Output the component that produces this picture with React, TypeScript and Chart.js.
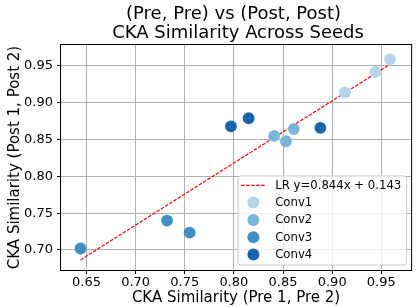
import React, { useEffect, useRef } from 'react';
import { Chart, registerables } from 'chart.js';

Chart.register(...registerables);

// ---- data ----
const groupNames = ['Conv1', 'Conv2', 'Conv3', 'Conv4'];
const groupColors = ['#b6d4e9', '#79b6d9', '#4090c5', '#1764ab'];

const conv1X = [0.913, 0.944, 0.959];
const conv1Y = [0.914, 0.942, 0.959];
const conv2X = [0.841, 0.853, 0.861];
const conv2Y = [0.855, 0.8477, 0.8644];
const conv3X = [0.644, 0.732, 0.755];
const conv3Y = [0.702, 0.740, 0.7235];
const conv4X = [0.797, 0.815, 0.888];
const conv4Y = [0.868, 0.879, 0.866];

const lrSlope = 0.844;
const lrIntercept = 0.143;
const lrLabel = 'LR y=0.844x + 0.143';

const xTicks = [0.65, 0.7, 0.75, 0.8, 0.85, 0.9, 0.95];
const yTicks = [0.7, 0.75, 0.8, 0.85, 0.9, 0.95];

const xRange = [0.6241, 0.9803];
const yRange = [0.6728, 0.9785];

const titleLines = ['(Pre, Pre) vs (Post, Post)', 'CKA Similarity Across Seeds'];
const xTitle = 'CKA Similarity (Pre 1, Pre 2)';
const yTitle = 'CKA Similarity (Post 1, Post 2)';

const FONT = '"DejaVu Sans", sans-serif';

const allX = [conv1X, conv2X, conv3X, conv4X];
const allY = [conv1Y, conv2Y, conv3Y, conv4Y];

const framePlugin = {
  id: 'frameTitleLegend',
  afterDraw(chart: any) {
    const ctx = chart.ctx as CanvasRenderingContext2D;
    const { left, right, top, bottom } = chart.chartArea;
    ctx.save();
    // frame
    ctx.strokeStyle = '#000';
    ctx.lineWidth = 1;
    ctx.strokeRect(left - 0.5, top - 0.5, right - left + 1, bottom - top + 1);

    // title
    ctx.fillStyle = '#000';
    ctx.font = `18px ${FONT}`;
    ctx.textAlign = 'center';
    ctx.textBaseline = 'alphabetic';
    const cx = (left + right) / 2;
    ctx.fillText(titleLines[0], cx - 2.5, 18.5);
    ctx.fillText(titleLines[1], cx + 2, 37.5);

    // legend
    const lgRight = right - 5;
    const lgBottom = bottom - 5.5;
    const rowGap = 17.3;
    ctx.font = `11.7px ${FONT}`;
    const labels = [lrLabel, ...groupNames];
    let maxW = 0;
    labels.forEach((l) => { maxW = Math.max(maxW, ctx.measureText(l).width); });
    const lgLeft = lgRight - (37.5 + maxW + 4.8);
    const lgTop = lgBottom - (20 + rowGap * (labels.length - 1));
    ctx.beginPath();
    (ctx as any).roundRect(lgLeft + 0.5, lgTop + 0.5, lgRight - lgLeft, lgBottom - lgTop, 3);
    ctx.fillStyle = 'rgba(255,255,255,0.8)';
    ctx.fill();
    ctx.strokeStyle = '#cccccc';
    ctx.lineWidth = 1;
    ctx.stroke();

    labels.forEach((l, i) => {
      const cy = lgTop + 10 + i * rowGap;
      if (i === 0) {
        ctx.save();
        ctx.strokeStyle = '#ff0000';
        ctx.lineWidth = 1.2;
        ctx.setLineDash([3.5, 1.5]);
        ctx.beginPath();
        ctx.moveTo(lgLeft + 3.5, cy);
        ctx.lineTo(lgLeft + 27, cy);
        ctx.stroke();
        ctx.restore();
      } else {
        ctx.beginPath();
        ctx.arc(lgLeft + 15.7, cy, 6, 0, Math.PI * 2);
        ctx.fillStyle = groupColors[i - 1];
        ctx.fill();
      }
      ctx.fillStyle = '#000';
      ctx.textAlign = 'left';
      ctx.textBaseline = 'middle';
      ctx.fillText(l, lgLeft + 37.5, cy + 0.5);
    });
    ctx.restore();
  },
};

export default function App() {
  const ref = useRef<HTMLCanvasElement>(null);
  useEffect(() => {
    const canvas = ref.current!;
    const flatX = allX.flat();
    const xmin = Math.min(...flatX);
    const xmax = Math.max(...flatX);
    const datasets: any[] = [
      {
        label: lrLabel,
        data: [
          { x: xmin, y: lrSlope * xmin + lrIntercept },
          { x: xmax, y: lrSlope * xmax + lrIntercept },
        ],
        showLine: true,
        borderColor: '#ff0000',
        borderWidth: 1.2,
        borderDash: [3.5, 1.5],
        pointRadius: 0,
        order: 10,
      },
      ...groupNames.map((name, gi) => ({
        label: name,
        data: allX[gi].map((x, i) => ({ x, y: allY[gi][i] })),
        backgroundColor: groupColors[gi],
        borderWidth: 0,
        pointRadius: 5.9,
        pointHoverRadius: 5.9,
        order: 1,
      })),
    ];
    const tickFont = { family: FONT, size: 13 };
    const titleFont = { family: FONT, size: 15 };
    const chart = new Chart(canvas, {
      type: 'scatter',
      data: { datasets },
      options: {
        animation: false,
        responsive: false,
        devicePixelRatio: 1,
        layout: { padding: { top: 45, right: 3, left: 0, bottom: 0 } },
        plugins: { legend: { display: false }, tooltip: { enabled: false } },
        scales: {
          x: {
            type: 'linear',
            min: xRange[0],
            max: xRange[1],
            afterBuildTicks: (s: any) => { s.ticks = xTicks.map((v) => ({ value: v })); },
            afterFit: (s: any) => { s.height = 37; },
            ticks: {
              callback: (v: any) => Number(v).toFixed(2),
              font: tickFont,
              color: '#000',
              padding: 1,
              maxRotation: 0,
              autoSkip: false,
            },
            grid: { color: '#b0b0b0', lineWidth: 1, tickLength: 4, tickColor: '#000', tickWidth: 1 },
            border: { display: false },
            title: { display: true, text: xTitle, font: titleFont, color: '#000', padding: { top: 0, bottom: 0 } },
          },
          y: {
            type: 'linear',
            min: yRange[0],
            max: yRange[1],
            afterBuildTicks: (s: any) => { s.ticks = yTicks.map((v) => ({ value: v })); },
            afterFit: (s: any) => { s.width = 61; },
            ticks: {
              callback: (v: any) => Number(v).toFixed(2),
              font: tickFont,
              color: '#000',
              padding: 4,
              autoSkip: false,
            },
            grid: { color: '#b0b0b0', lineWidth: 1, tickLength: 4, tickColor: '#000', tickWidth: 1 },
            border: { display: false },
            title: { display: true, text: yTitle, font: titleFont, color: '#000', padding: { top: 6, bottom: 0 } },
          },
        },
      },
      plugins: [framePlugin],
    });
    return () => chart.destroy();
  }, []);
  return (
    <div style={{ position: 'fixed', left: 0, top: 0, width: 417, height: 307, background: '#fff' }}>
      <canvas ref={ref} width={417} height={307} style={{ display: 'block', width: 417, height: 307 }} />
    </div>
  );
}
